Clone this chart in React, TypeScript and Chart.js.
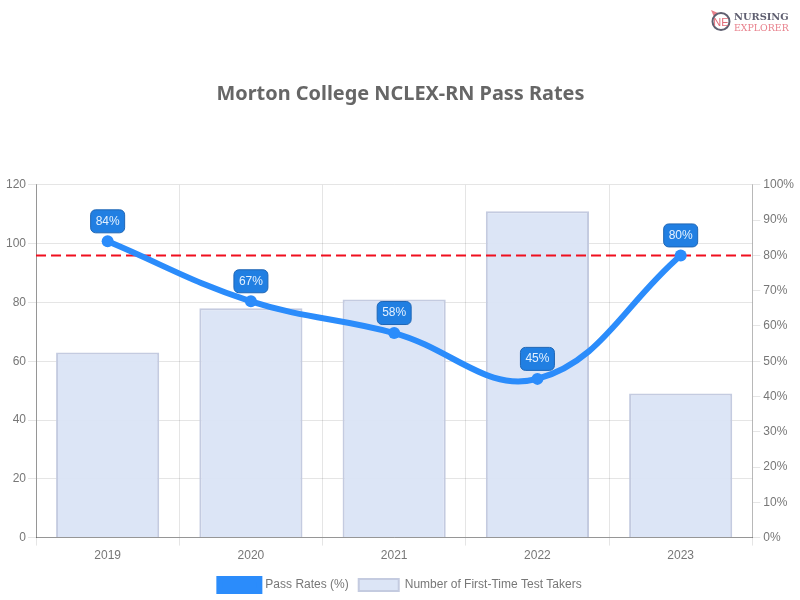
import { useEffect, useRef } from 'react';
import { Chart, registerables } from 'chart.js';

Chart.register(...registerables);

const YEARS = ['2019', '2020', '2021', '2022', '2023'];
const PASS_RATES = [84, 67, 58, 45, 80];
const TEST_TAKERS = [63, 78, 81, 111, 49];
const BENCHMARK = 80;

// sits between the bars and the line, so it has to hook on the bar dataset
const benchmarkLine = {
  id: 'benchmarkLine',
  afterDatasetDraw(chart: any, args: any) {
    if (args.index !== 1) return;
    const { ctx, chartArea, scales } = chart;
    const y = scales.y1.getPixelForValue(BENCHMARK);
    ctx.save();
    ctx.strokeStyle = '#f00f1e';
    ctx.lineWidth = 2;
    ctx.setLineDash([10, 5]);
    ctx.beginPath();
    ctx.moveTo(chartArea.left, y);
    ctx.lineTo(chartArea.right, y);
    ctx.stroke();
    ctx.restore();
  },
};

// rounded badges above the line points
const rateBadges = {
  id: 'rateBadges',
  afterDatasetsDraw(chart: any) {
    const { ctx } = chart;
    const points = chart.getDatasetMeta(0).data;
    ctx.save();
    ctx.font = '12px "Liberation Sans"';
    ctx.textAlign = 'center';
    ctx.textBaseline = 'middle';
    points.forEach((pt: any, i: number) => {
      const w = 34;
      const h = 23;
      const cy = pt.y - 20;
      ctx.beginPath();
      ctx.roundRect(pt.x - w / 2, cy - h / 2, w, h, 5);
      ctx.fillStyle = '#217fe2';
      ctx.fill();
      ctx.strokeStyle = '#1f66b5';
      ctx.lineWidth = 1;
      ctx.stroke();
      ctx.fillStyle = '#e4f1ff';
      ctx.fillText(`${PASS_RATES[i]}%`, pt.x, cy);
    });
    ctx.restore();
  },
};

export default function App() {
  const canvasRef = useRef<HTMLCanvasElement>(null);

  useEffect(() => {
    if (!canvasRef.current) return;
    document.body.style.margin = '0';

    const chart = new Chart(canvasRef.current, {
      type: 'bar',
      data: {
        labels: YEARS,
        datasets: [
          {
            type: 'line',
            label: 'Pass Rates (%)',
            data: PASS_RATES,
            yAxisID: 'y1',
            borderColor: '#2b8cfb',
            backgroundColor: '#2b8cfb',
            borderWidth: 6,
            tension: 0.4,
            pointRadius: 6,
            pointBackgroundColor: '#2b8cfb',
            pointBorderColor: '#2b8cfb',
            pointBorderWidth: 0,
            order: 1,
          },
          {
            type: 'bar',
            label: 'Number of First-Time Test Takers',
            data: TEST_TAKERS,
            yAxisID: 'y',
            backgroundColor: 'rgba(218, 228, 246, 0.95)',
            borderColor: '#c4cbe0',
            borderWidth: 2,
            order: 2,
          },
        ],
      },
      options: {
        responsive: false,
        animation: false,
        layout: { padding: { left: 4, right: 3, top: 82, bottom: -1 } },
        plugins: {
          title: {
            display: true,
            text: 'Morton College NCLEX-RN Pass Rates',
            color: '#666666',
            font: { family: '"Noto Sans"', size: 19.9, weight: 'bold' },
            padding: { top: 0, bottom: 79 },
          },
          legend: {
            position: 'bottom',
            labels: {
              boxWidth: 40,
              boxHeight: 12,
              padding: 10,
              color: '#777777',
              font: { family: '"Liberation Sans"', size: 12 },
            },
          },
          tooltip: { enabled: false },
        },
        scales: {
          x: {
            afterFit: (scale: any) => {
              scale.height += 3;
            },
            ticks: { color: '#777777', font: { family: '"Liberation Sans"', size: 12 } },
            grid: { color: 'rgba(0, 0, 0, 0.1)' },
            border: { color: 'rgba(0, 0, 0, 0.35)' },
          },
          y: {
            position: 'left',
            min: 0,
            max: 120,
            ticks: { stepSize: 20, padding: 2, color: '#777777', font: { family: '"Liberation Sans"', size: 12 } },
            grid: { color: 'rgba(0, 0, 0, 0.1)' },
            border: { color: 'rgba(0, 0, 0, 0.35)' },
          },
          y1: {
            position: 'right',
            min: 0,
            max: 100,
            ticks: {
              stepSize: 10,
              color: '#777777',
              font: { family: '"Liberation Sans"', size: 12 },
              callback: (v: any) => `${v}%`,
            },
            grid: { drawOnChartArea: false, color: 'rgba(0, 0, 0, 0.1)' },
            border: { color: 'rgba(0, 0, 0, 0.2)' },
          },
        },
      },
      plugins: [benchmarkLine, rateBadges],
    } as any);

    return () => chart.destroy();
  }, []);

  return (
    <div style={{ position: 'relative', width: 800, height: 600 }}>
      <canvas ref={canvasRef} width={800} height={600} />
      <div style={{ position: 'absolute', top: 10, left: 711, display: 'flex', alignItems: 'center' }}>
        <svg width="22" height="24" viewBox="0 0 22 24" style={{ marginRight: 1 }}>
          <path d="M0 0 L7 3 L3 7 Z" fill="#e8808c" />
          <circle cx="10" cy="11.5" r="8.5" fill="none" stroke="#5f5f70" strokeWidth="2" />
          <text x="10" y="15.5" textAnchor="middle" fontFamily="Liberation Sans" fontSize="11" fill="#e06a78">NE</text>
        </svg>
        <div style={{ fontFamily: '"DejaVu Serif"', fontSize: 9.8, lineHeight: '11px', fontWeight: 'bold' }}>
          <div style={{ color: '#5f5f70' }}>NURSING</div>
          <div style={{ color: '#e8808c', fontWeight: 'normal', fontSize: 9.4 }}>EXPLORER</div>
        </div>
      </div>
    </div>
  );
}
